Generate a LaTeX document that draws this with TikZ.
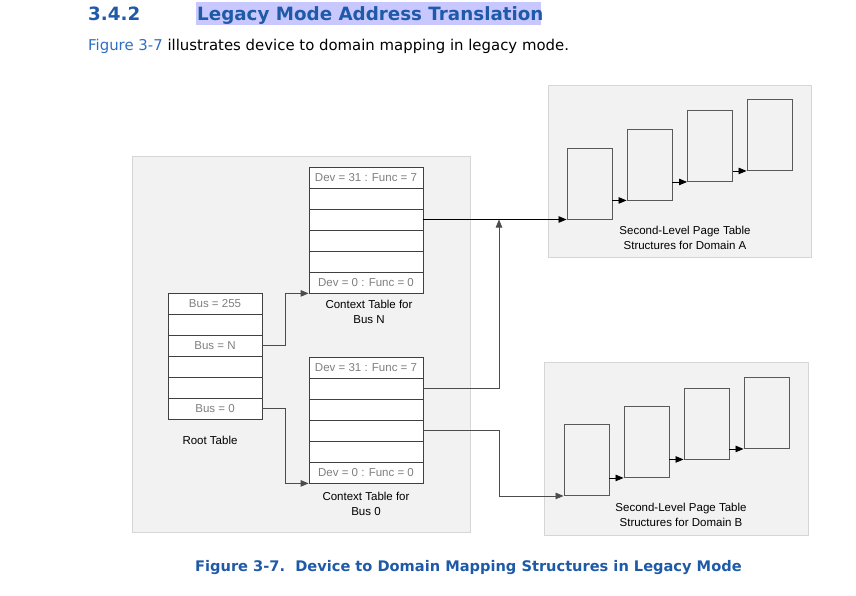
\documentclass[tikz,border=0pt]{standalone}
\usepackage{fontspec}
\setmainfont{Liberation Sans}
\newfontfamily\verdana{DejaVu Sans}
\usetikzlibrary{arrows.meta}
\definecolor{headblue}{HTML}{1F5AA8}
\definecolor{linkblue}{HTML}{2E6FC2}
\definecolor{hilite}{HTML}{C8C8FF}
\definecolor{panelgray}{HTML}{F2F2F2}
\definecolor{panelline}{HTML}{D6D6D6}
\definecolor{celltext}{HTML}{7F7F7F}
\tikzset{
  panel/.style={fill=panelgray,draw=panelline,line width=0.9pt},
  cell/.style={draw=black!75,fill=white,line width=0.8pt,minimum width=114pt,minimum height=21pt,
    inner sep=0pt,font=\fontsize{11.5}{13}\selectfont,text=celltext},
  rootcell/.style={cell,minimum width=94pt},
  page/.style={draw=black!65,fill=panelgray,line width=0.9pt,minimum width=45pt,minimum height=71pt,inner sep=0pt},
  caption/.style={align=center,font=\fontsize{11.5}{14.5}\selectfont},
  link/.style={->,line width=0.8pt,draw=black!70},
  >={Triangle[length=8pt,width=6.5pt]}
}
\begin{document}
\begin{tikzpicture}[x=1pt,y=-1pt]
\useasboundingbox (0,0) rectangle (856,596);

% heading
\fill[hilite] (196,2) rectangle (541,25);
\node[anchor=base west,inner sep=0pt,text=headblue,font=\verdana\bfseries\fontsize{18.3}{20}\selectfont] (secnum) at (88,20.5) {3.4.2};
\node[anchor=base west,inner sep=0pt,text=headblue,font=\verdana\bfseries\fontsize{18.3}{20}\selectfont] (title) at (197,20.5) {Legacy Mode Address Translation};
\node[anchor=base west,inner sep=0pt,font=\verdana\fontsize{14.9}{17}\selectfont] (intro) at (88,51) {\textcolor{linkblue}{Figure 3-7} illustrates device to domain mapping in legacy mode.};

% panels
\draw[panel] (132,156) rectangle (470,532);
\draw[panel] (548,85) rectangle (811,257);
\draw[panel] (544,362) rectangle (808,535);

% context table for bus N
\node[cell] (ctN1) at (366,177.5) {Dev = 31 : Func = 7};
\node[cell] (ctN2) at (366,198.5) {};
\node[cell] (ctN3) at (366,219.5) {};
\node[cell] (ctN4) at (366,240.5) {};
\node[cell] (ctN5) at (366,261.5) {};
\node[cell] (ctN6) at (366,282.5) {Dev = 0 : Func = 0};
\node[caption] (ctNlabel) at (369,312) {Context Table for\\Bus N};

% root table
\node[rootcell] (root1) at (215,303.5) {Bus = 255};
\node[rootcell] (root2) at (215,324.5) {};
\node[rootcell] (root3) at (215,345.5) {Bus = N};
\node[rootcell] (root4) at (215,366.5) {};
\node[rootcell] (root5) at (215,387.5) {};
\node[rootcell] (root6) at (215,408.5) {Bus = 0};
\node[caption] (rootlabel) at (210,440) {Root Table};

% context table for bus 0
\node[cell] (ct01) at (366,367.5) {Dev = 31 : Func = 7};
\node[cell] (ct02) at (366,388.5) {};
\node[cell] (ct03) at (366,409.5) {};
\node[cell] (ct04) at (366,430.5) {};
\node[cell] (ct05) at (366,451.5) {};
\node[cell] (ct06) at (366,472.5) {Dev = 0 : Func = 0};
\node[caption] (ct0label) at (366,504) {Context Table for\\Bus 0};

% page tables, domain A
\node[page] (a1) at (589.5,183.5) {};
\node[page] (a2) at (649.5,164.5) {};
\node[page] (a3) at (710,146) {};
\node[page] (a4) at (769.5,135) {};
\node[caption] (alabel) at (685,238) {Second-Level Page Table\\Structures for Domain A};

% page tables, domain B
\node[page] (b1) at (586.5,460) {};
\node[page] (b2) at (646.5,442) {};
\node[page] (b3) at (706.5,423.5) {};
\node[page] (b4) at (766.5,413) {};
\node[caption] (blabel) at (681,515) {Second-Level Page Table\\Structures for Domain B};

\coordinate (join) at (499,219.5);

% connectors
\draw[link] (root3.east) -- ++(23,0) |- (ctN6.south west);
\draw[link] (root6.east) -- ++(23,0) |- (ct06.south west);
\draw[link,draw=black] (ctN3.east) -- (ctN3.east -| a1.west);
\draw[link] (ct02.east) -| (join);
\draw[link] (ct04.east) -- ++(76,0) |- (b1.south west);

\draw[->,line width=0.8pt] (a1.east |- a2.south) -- (a2.south west);
\draw[->,line width=0.8pt] (a2.east |- a3.south) -- (a3.south west);
\draw[->,line width=0.8pt] (a3.east |- a4.south) -- (a4.south west);
\draw[->,line width=0.8pt] (b1.east |- b2.south) -- (b2.south west);
\draw[->,line width=0.8pt] (b2.east |- b3.south) -- (b3.south west);
\draw[->,line width=0.8pt] (b3.east |- b4.south) -- (b4.south west);

% figure caption
\node[anchor=base west,inner sep=0pt,text=headblue,font=\verdana\bfseries\fontsize{14.6}{17}\selectfont] (figcap) at (195,571) {Figure 3-7.\ \ Device to Domain Mapping Structures in Legacy Mode};
\end{tikzpicture}
\end{document}
